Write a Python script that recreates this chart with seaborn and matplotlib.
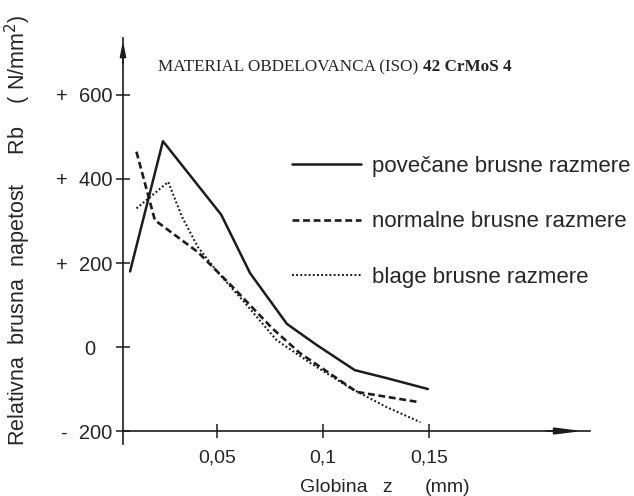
import numpy as np
import pandas as pd
import matplotlib
matplotlib.use("Agg")
import matplotlib.pyplot as plt
import seaborn as sns

# ---- data ----
series_names = ["povečane brusne razmere", "normalne brusne razmere", "blage brusne razmere"]

x_povecane = [0.009, 0.0245, 0.052, 0.0656, 0.083, 0.097, 0.115, 0.130, 0.1495]
y_povecane = [180, 490, 315, 176, 55, 5, -55, -74, -100]

x_normalne = [0.012, 0.0207, 0.041, 0.057, 0.076, 0.089, 0.116, 0.145]
y_normalne = [465, 302, 226, 145, 45, -14, -107, -131]

x_blage = [0.012, 0.027, 0.0335, 0.041, 0.05, 0.062, 0.078, 0.094, 0.113, 0.130, 0.146]
y_blage = [330, 393, 310, 238, 180, 112, 17, -38, -98, -143, -179]

y_ticks = [-200, 0, 200, 400, 600]
y_ticklabels = ["-  200", "0   ", "+  200", "+  400", "+  600"]
x_ticks = [0.05, 0.1, 0.15]
x_ticklabels = ["0,05", "0,1", "0,15"]

df = pd.concat([
    pd.DataFrame({"z": x_povecane, "Rb": y_povecane, "serija": series_names[0]}),
    pd.DataFrame({"z": x_normalne, "Rb": y_normalne, "serija": series_names[1]}),
    pd.DataFrame({"z": x_blage, "Rb": y_blage, "serija": series_names[2]}),
], ignore_index=True)

sns.set_style("white")
plt.rcParams["font.family"] = ["Liberation Sans", "DejaVu Sans"]

ink = "#1c1c1c"
txt = "#262626"
fig = plt.figure(figsize=(6.34, 4.96), dpi=100)
ax = fig.add_axes([0.194, 0.1056, 0.7366, 0.8178])

dashes = {series_names[0]: "", series_names[1]: (2.6, 1.4), series_names[2]: (0.9, 1.1)}
sns.lineplot(data=df, x="z", y="Rb", hue="serija", style="serija",
             palette=[ink, ink, ink], dashes=dashes, sort=False,
             estimator=None, legend=False, ax=ax)
lws = [1.8, 1.9, 1.5]
for ln, lw in zip(ax.get_lines(), lws):
    ln.set_linewidth(lw)

ax.set_xlim(0.00566, 0.226)
ax.set_ylim(-230, 735.7)

for s in ["top", "right"]:
    ax.spines[s].set_visible(False)
ax.spines["bottom"].set_position(("data", -200))
for s in ["left", "bottom"]:
    ax.spines[s].set_color(ink)
    ax.spines[s].set_linewidth(1.2)

# arrows at axis ends
ax.annotate("", xy=(0, 1.0), xytext=(0, 0.93), xycoords="axes fraction",
            arrowprops=dict(arrowstyle="-|>,head_length=0.9,head_width=0.18",
                            color=ink, lw=1.2))
ax.annotate("", xy=(0.99, -200), xytext=(0.90, -200),
            xycoords=("axes fraction", "data"),
            arrowprops=dict(arrowstyle="-|>,head_length=1.6,head_width=0.2",
                            color=ink, lw=1.2))

ax.set_yticks(y_ticks)
ax.set_yticklabels(y_ticklabels)
ax.set_xticks(x_ticks)
ax.set_xticklabels(x_ticklabels)
ax.tick_params(axis="both", which="major", left=True, bottom=True,
               direction="inout", length=10, width=1.1, colors=ink,
               labelsize=14.5, labelcolor=txt)
ax.tick_params(axis="y", pad=2.5)
ax.tick_params(axis="x", pad=8, labelsize=14)
ax.set_xlabel("")
ax.set_ylabel("")

fig.text(18 / 634, 1 - 230 / 496,
         "Relativna  brusna  napetost     Rb    ( N/mm$^2$)",
         rotation=90, ha="center", va="center", fontsize=15.5, color=txt)

# x label: "Globina z (mm)"
fig.text(300 / 634, 1 - 488 / 496, "Globina", ha="left", va="center",
         fontsize=14, color=txt)
fig.text(382 / 634, 1 - 488 / 496, "z", ha="left", va="center",
         fontsize=14, color=txt)
fig.text(425 / 634, 1 - 488 / 496, "(mm)", ha="left", va="center",
         fontsize=14, color=txt)

fig.text(158 / 634, 1 - 67 / 496, "MATERIAL OBDELOVANCA (ISO)",
         ha="left", va="center", fontsize=12.3, color=txt,
         family=["Liberation Serif"])
fig.text(423 / 634, 1 - 67 / 496, "42 CrMoS 4",
         ha="left", va="center", fontsize=12.3, fontweight="bold", color=txt,
         family=["Liberation Serif"])

leg = ax.legend(ax.get_lines(), series_names, loc="upper left",
                bbox_to_anchor=(292 / 634, 1 - 156 / 496),
                bbox_transform=fig.transFigure, frameon=False, fontsize=16,
                handlelength=3.1, handletextpad=0.5, labelspacing=1.55,
                borderpad=0, borderaxespad=0)
for t in leg.get_texts():
    t.set_color(txt)

fig.savefig("out.png", dpi=100, facecolor="white")
